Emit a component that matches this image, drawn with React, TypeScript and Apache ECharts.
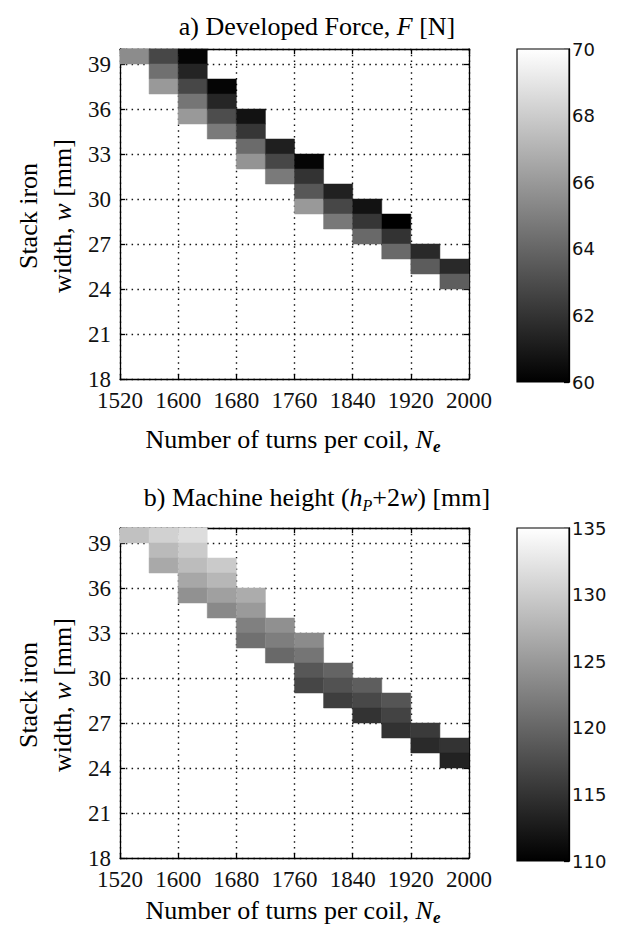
import React, { useEffect, useRef } from "react";
import * as echarts from "echarts";

// ---- data ----
const TURN_TICKS = [1520, 1600, 1680, 1760, 1840, 1920, 2000];
const WIDTH_TICKS = [18, 21, 24, 27, 30, 33, 36, 39];
const WIDTH_MAX = 40;
const FORCE_TICKS = [60, 62, 64, 66, 68, 70];
const HEIGHT_TICKS = [110, 115, 120, 125, 130, 135];

const TURN_STEP = 40; // cell width in turns
const WIDTH_STEP = 1; // cell height in mm

// lower-left corner of every feasible cell (turns, width)
const CELL_TURNS = [
  1520, 1560, 1600,
  1560, 1600,
  1560, 1600, 1640,
  1600, 1640,
  1600, 1640, 1680,
  1640, 1680,
  1680, 1720,
  1680, 1720, 1760,
  1720, 1760,
  1760, 1800,
  1760, 1800, 1840,
  1800, 1840, 1880,
  1840, 1880,
  1880, 1920,
  1920, 1960,
  1960,
];
const CELL_WIDTHS = [
  39, 39, 39,
  38, 38,
  37, 37, 37,
  36, 36,
  35, 35, 35,
  34, 34,
  33, 33,
  32, 32, 32,
  31, 31,
  30, 30,
  29, 29, 29,
  28, 28, 28,
  27, 27,
  26, 26,
  25, 25,
  24,
];
const FORCE_VALUES = [
  65.5, 62.8, 60.2,
  64.4, 61.4,
  66.0, 62.8, 60.2,
  64.6, 61.5,
  66.0, 63.0, 60.7,
  64.8, 62.1,
  64.2, 61.2,
  65.8, 62.8, 60.2,
  64.8, 62.0,
  63.4, 61.3,
  66.0, 62.8, 60.7,
  64.7, 62.1, 60.0,
  64.1, 62.0,
  64.1, 61.6,
  63.6, 61.6,
  63.7,
];
const HEIGHT_VALUES = [
  128.9, 130.5, 131.7,
  128.2, 129.9,
  126.6, 128.4, 129.8,
  126.4, 127.9,
  124.2, 125.7, 126.9,
  123.4, 125.1,
  122.5, 124.1,
  121.0, 122.4, 123.6,
  120.3, 121.5,
  118.5, 119.8,
  116.9, 118.0, 119.2,
  116.1, 117.1, 118.3,
  115.0, 116.6,
  114.9, 115.7,
  114.1, 115.0,
  113.3,
];

const SERIF = '"Liberation Serif", "Times New Roman", serif';
const SANS = '"DejaVu Sans", Verdana, sans-serif';

const cellRender = (params: any, api: any) => {
  const n = api.value(0);
  const w = api.value(1);
  const a = api.coord([n, w + WIDTH_STEP]);
  const b = api.coord([n + TURN_STEP, w]);
  const c = api.visual("color");
  return {
    type: "rect",
    shape: { x: a[0], y: a[1], width: b[0] - a[0], height: b[1] - a[1] },
    style: { fill: c, stroke: c, lineWidth: 0.5 },
  };
};

const barRender = (params: any, api: any) => {
  const a = api.coord([api.value(0), api.value(3)]);
  const b = api.coord([api.value(2), api.value(1)]);
  return {
    type: "rect",
    shape: { x: a[0], y: a[1], width: b[0] - a[0], height: b[1] - a[1] },
    style: {
      fill: new echarts.graphic.LinearGradient(0, 0, 0, 1, [
        { offset: 0, color: "#ffffff" },
        { offset: 1, color: "#000000" },
      ]),
      stroke: "#000",
      lineWidth: 1.2,
    },
  };
};

const LINE = { color: "#000", width: 1.3 };
const DOTS = { show: true, lineStyle: { color: "#111", width: 1.4, type: [1.5, 4.3] } };

function plotAxes(gridIndex: number) {
  const xBase = {
    type: "value",
    gridIndex,
    min: TURN_TICKS[0],
    max: TURN_TICKS[TURN_TICKS.length - 1],
    interval: TURN_TICKS[1] - TURN_TICKS[0],
    axisLine: { show: true, onZero: false, lineStyle: LINE },
    axisTick: { show: true, inside: true, length: 5, lineStyle: LINE },
  };
  const yBase = {
    type: "value",
    gridIndex,
    min: WIDTH_TICKS[0],
    max: WIDTH_MAX,
    interval: WIDTH_TICKS[1] - WIDTH_TICKS[0],
    axisLine: { show: true, onZero: false, lineStyle: LINE },
    axisTick: { show: true, inside: true, length: 5, lineStyle: LINE },
  };
  const xs = [
    {
      ...xBase,
      position: "bottom",
      axisLabel: {
        show: true,
        margin: 10,
        fontFamily: SERIF,
        fontSize: 23,
        color: "#111",
        formatter: (v: number) => String(v),
      },
      splitLine: DOTS,
    },
    { ...xBase, position: "top", axisLabel: { show: false }, splitLine: { show: false } },
  ];
  const ys = [
    {
      ...yBase,
      position: "left",
      axisLabel: {
        show: true,
        margin: 9,
        fontFamily: SERIF,
        fontSize: 23,
        color: "#111",
        formatter: (v: number) => (WIDTH_TICKS.indexOf(v) >= 0 ? String(v) : ""),
      },
      splitLine: DOTS,
    },
    { ...yBase, position: "right", axisLabel: { show: false }, splitLine: { show: false } },
  ];
  return { xs, ys };
}

function barAxes(gridIndex: number, ticks: number[]) {
  const xs = [{ type: "value", gridIndex, min: 0, max: 1, show: false }];
  const ys = [
    {
      type: "value",
      gridIndex,
      position: "right",
      min: ticks[0],
      max: ticks[ticks.length - 1],
      interval: ticks[1] - ticks[0],
      axisLine: { show: true, onZero: false, lineStyle: LINE },
      axisTick: { show: true, inside: true, length: 5, lineStyle: LINE },
      axisLabel: { show: true, margin: 3, fontFamily: SANS, fontSize: 18, color: "#111" },
      splitLine: { show: false },
    },
  ];
  return { xs, ys };
}

const titleRich = {
  i: { fontFamily: SERIF, fontSize: 26, fontStyle: "italic", fill: "#000" },
  s: { fontFamily: SERIF, fontSize: 16, fontStyle: "italic", fill: "#000", verticalAlign: "bottom", lineHeight: 12 },
  sb: { fontFamily: SERIF, fontSize: 17, fontStyle: "italic", fontWeight: "bold", fill: "#000", verticalAlign: "bottom", lineHeight: 12 },
};

function textEl(x: number, y: number, text: string, rotation = 0, lineHeight = 32) {
  return {
    type: "text",
    x,
    y,
    rotation,
    style: {
      text,
      fill: "#000",
      fontFamily: SERIF,
      fontSize: 26,
      align: "center",
      verticalAlign: "middle",
      textAlign: "center",
      textVerticalAlign: "middle",
      lineHeight,
      rich: titleRich,
    },
  };
}

export default function App() {
  const ref = useRef<HTMLDivElement>(null);
  useEffect(() => {
    if (!ref.current) return;
    const chart = echarts.init(ref.current, null, { renderer: "svg" });
    const pa = plotAxes(0);
    const ba = barAxes(1, FORCE_TICKS);
    const pb = plotAxes(2);
    const bb = barAxes(3, HEIGHT_TICKS);

    const forceData = CELL_TURNS.map((n, i) => [n, CELL_WIDTHS[i], FORCE_VALUES[i]]);
    const heightData = CELL_TURNS.map((n, i) => [n, CELL_WIDTHS[i], HEIGHT_VALUES[i]]);

    chart.setOption({
      animation: false,
      backgroundColor: "#ffffff",
      grid: [
        { left: 120, top: 49, width: 349, height: 330 },
        { left: 517, top: 49, width: 52, height: 333 },
        { left: 120, top: 528, width: 349, height: 330 },
        { left: 517, top: 528, width: 52, height: 333 },
      ],
      xAxis: [...pa.xs, ...ba.xs, ...pb.xs, ...bb.xs],
      yAxis: [...pa.ys, ...ba.ys, ...pb.ys, ...bb.ys],
      visualMap: [
        {
          type: "continuous",
          show: false,
          seriesIndex: 0,
          dimension: 2,
          min: FORCE_TICKS[0],
          max: FORCE_TICKS[FORCE_TICKS.length - 1],
          inRange: { color: ["#000000", "#ffffff"] },
        },
        {
          type: "continuous",
          show: false,
          seriesIndex: 2,
          dimension: 2,
          min: HEIGHT_TICKS[0],
          max: HEIGHT_TICKS[HEIGHT_TICKS.length - 1],
          inRange: { color: ["#000000", "#ffffff"] },
        },
      ],
      series: [
        {
          type: "custom",
          xAxisIndex: 0,
          yAxisIndex: 0,
          renderItem: cellRender,
          encode: { x: 0, y: 1 },
          data: forceData,
        },
        {
          type: "custom",
          xAxisIndex: 2,
          yAxisIndex: 2,
          renderItem: barRender,
          encode: { x: [0, 2], y: [1, 3] },
          data: [[0, FORCE_TICKS[0], 1, FORCE_TICKS[FORCE_TICKS.length - 1]]],
        },
        {
          type: "custom",
          xAxisIndex: 3,
          yAxisIndex: 3,
          renderItem: cellRender,
          encode: { x: 0, y: 1 },
          data: heightData,
        },
        {
          type: "custom",
          xAxisIndex: 5,
          yAxisIndex: 5,
          renderItem: barRender,
          encode: { x: [0, 2], y: [1, 3] },
          data: [[0, HEIGHT_TICKS[0], 1, HEIGHT_TICKS[HEIGHT_TICKS.length - 1]]],
        },
      ],
      graphic: [
        textEl(317, 26, "a) Developed Force, {i|F} [N]"),
        textEl(317, 497, "b) Machine height ({i|h}{s|P}+2{i|w}) [mm]"),
        textEl(293, 439, "Number of turns per coil, {i|N}{sb|e}"),
        textEl(293, 910, "Number of turns per coil, {i|N}{sb|e}"),
        textEl(45, 216, "Stack iron\nwidth, {i|w} [mm]", Math.PI / 2, 34),
        textEl(45, 695, "Stack iron\nwidth, {i|w} [mm]", Math.PI / 2, 34),
      ],
    });
    return () => chart.dispose();
  }, []);
  return (
    <div
      ref={ref}
      style={{ position: "fixed", left: 0, top: 0, width: 621, height: 929, background: "#fff" }}
    />
  );
}
